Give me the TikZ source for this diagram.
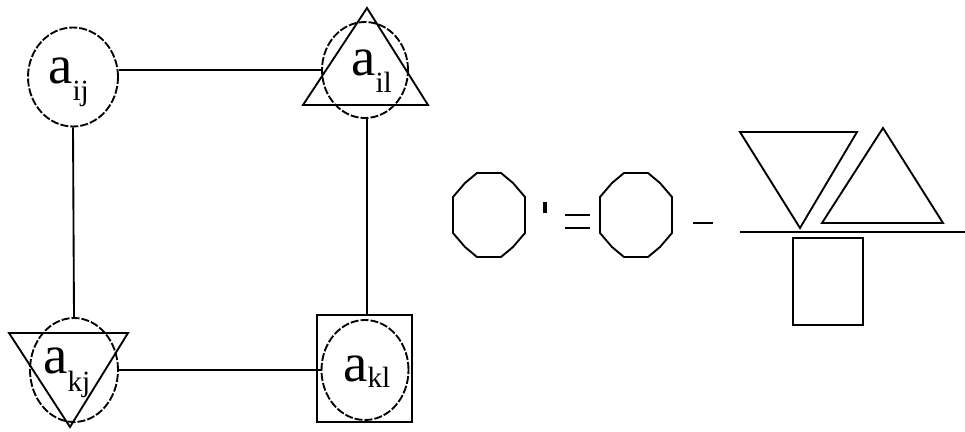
\documentclass[tikz,border=0pt]{standalone}
\usepackage{fontspec}
\setmainfont{Liberation Serif}
\usetikzlibrary{shapes.geometric}
\begin{document}
\begin{tikzpicture}[x=0.75pt,y=-0.75pt,
  ln/.style={line width=1.4pt},
  ring/.style={ellipse,draw,line width=1.4pt,dash pattern=on 6pt off 1.5pt,inner sep=0pt},
  lab/.style={anchor=base west,inner sep=0pt,font=\fontsize{41}{41}\selectfont}]
\useasboundingbox (0,0) rectangle (965,432);
% node shapes
\node[ring,minimum width=90*0.75pt,minimum height=99*0.75pt] (ij) at (73,77) {};
\node[ring,minimum width=86*0.75pt,minimum height=96*0.75pt] (il) at (365,70) {};
\node[ring,minimum width=88*0.75pt,minimum height=104*0.75pt] (kj) at (74,370) {};
\node[ring,minimum width=87*0.75pt,minimum height=100*0.75pt] (kl) at (365,370) {};
\node[draw,ln,minimum width=95*0.75pt,minimum height=107*0.75pt,inner sep=0pt] (klbox) at (364.5,368.5) {};
% triangles
\draw[ln] (367,8) -- (428,105) -- (303,105) -- cycle;
\draw[ln] (9,333) -- (128,333) -- (70,427) -- cycle;
% labels
\node[lab] (tij) at (48,83) {a\raisebox{-13pt}{\fontsize{22}{22}\selectfont ij}};
\node[lab] (til) at (351,75) {a\raisebox{-13pt}{\fontsize{22}{22}\selectfont il}};
\node[lab] (tkj) at (43,373) {a\raisebox{-14pt}{\fontsize{22}{22}\selectfont kj}};
\node[lab] (tkl) at (343,381) {a\raisebox{-5pt}{\fontsize{22}{22}\selectfont kl}};
% connectors
\draw[ln] (ij.east |- il.west) -- (il.west);
\draw[ln] (ij.south) -- (kj.north);
\draw[ln] (il.south -| 367,0) -- (klbox.north -| 367,0);
\draw[ln] (kj.east) -- (kl.west);
% equation
\draw[ln] (489,173) ++(-12,0) -- ++(24,0) -- ++(12,10) -- ++(12,14) -- ++(0,36) -- ++(-12,14) -- ++(-12,10) -- ++(-24,0) -- ++(-12,-10) -- ++(-12,-14) -- ++(0,-36) -- ++(12,-14) -- cycle;
\draw[line width=3pt] (544.5,202) -- (544.5,213);
\draw[ln] (565,215) -- (590,215) (565,228) -- (590,228);
\draw[ln] (636,173) ++(-12,0) -- ++(24,0) -- ++(12,10) -- ++(12,14) -- ++(0,36) -- ++(-12,14) -- ++(-12,10) -- ++(-24,0) -- ++(-12,-10) -- ++(-12,-14) -- ++(0,-36) -- ++(12,-14) -- cycle;
\draw[ln] (693,223) -- (713,223);
\draw[ln] (740,132) -- (857,132) -- (800,228) -- cycle;
\draw[ln] (883,128) -- (943,223) -- (822,223) -- cycle;
\draw[ln] (740,232) -- (965,232);
\draw[ln] (793,238) rectangle (863,325);
\end{tikzpicture}
\end{document}
